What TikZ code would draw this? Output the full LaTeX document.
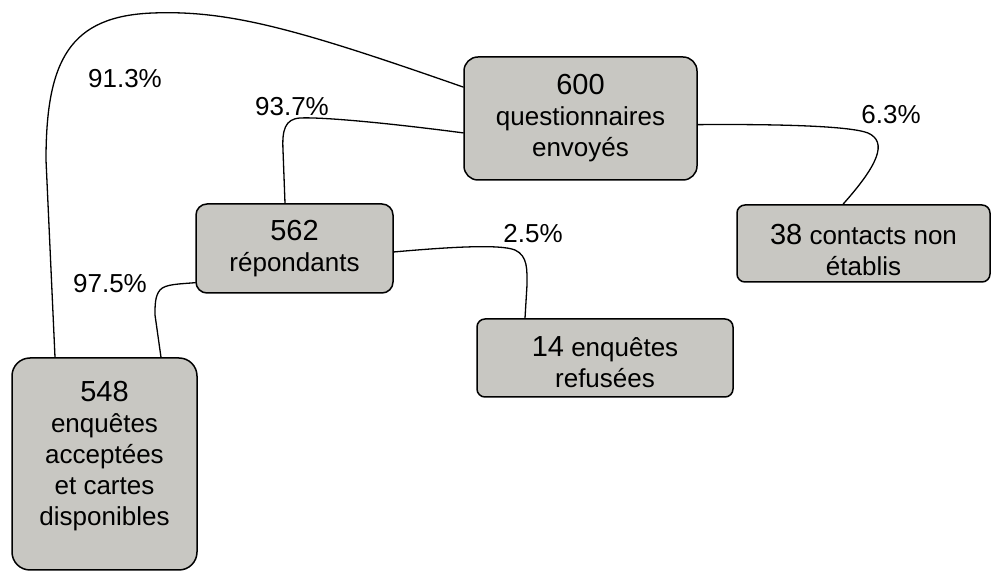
\documentclass[tikz,border=0pt]{standalone}
\usepackage{fontspec}
\setmainfont{Liberation Sans}
\usetikzlibrary{calc}
\newcommand\bignum[1]{{\fontsize{14.5}{15.5}\selectfont #1}}

\begin{document}
\begin{tikzpicture}[x=0.5pt, y=-0.5pt, line join=round, line cap=round,
		font=\fontsize{13}{15.5}\selectfont,
		box/.style={draw, line width=0.75pt, fill=boxgray, rounded corners=#1, align=center, inner sep=0pt},
		box/.default=6pt,
		link/.style={line width=0.65pt},
		pct/.style={inner sep=0pt}]
	\def\pix{0.5pt}
	\definecolor{boxgray}{RGB}{200,199,194}
	\useasboundingbox (0,0) rectangle (992,571);
	\node[box=7pt, minimum width=233*\pix, minimum height=123*\pix] (p600) at (580.5,118.5) {\bignum{600}\\questionnaires\\envoyés};
	\node[box=5.5pt, minimum width=197*\pix, minimum height=89*\pix] (r562) at (294.5,248.5) {\bignum{562}\\répondants};
	\node[box=9pt, minimum width=185*\pix, minimum height=212*\pix] (a548) at (104.5,464) {\bignum{548}\\enquêtes\\acceptées\\et cartes\\disponibles\\[-5pt]\mbox{}};
	\node[box=4pt, minimum width=256*\pix, minimum height=78*\pix] (r14) at (605,358) {\mbox{}\\[-1pt]\bignum{14} enquêtes\\refusées};
	\node[box=4pt, minimum width=253*\pix, minimum height=77*\pix] (c38) at (863.5,243.5) {\mbox{}\\[1pt]\bignum{38} contacts non\\établis};
	\node[pct] (l913) at (125,79) {91.3\%};
	\node[pct] (l937) at (292,107) {93.7\%};
	\node[pct] (l975) at (110,284) {97.5\%};
	\node[pct] (l25) at (533,234) {2.5\%};
	\node[pct] (l63) at (891,115) {6.3\%};
	\draw[link] (p600.165) .. controls (300,30) and (230,10) .. (153,13) .. controls (70,16) and (46,60) .. (46,160) -- ($(a548.north)+(-49.5,0)$);
	\draw[link] (p600.187) .. controls (380,122) and (320,117) .. (300,118) .. controls (285,119) and (282,130) .. (283,150) -- ($(r562.north)+(-9.5,0)$);
	\draw[link] (p600.-3) .. controls (780,124) and (850,126) .. (868,133) .. controls (888,142) and (878,165) .. ($(c38.north)+(-20.5,0)$);
	\draw[link] (r562.-2) .. controls (450,247) and (500,244) .. (515,250) .. controls (528,256) and (527,270) .. (527,285) -- ($(r14.north)+(-80,0)$);
	\draw[link] (r562.199) .. controls (180,284) and (165,284) .. (160,290) .. controls (155,296) and (155,305) .. (155,315) -- ($(a548.north)+(56.5,0)$);
\end{tikzpicture}
\end{document}
